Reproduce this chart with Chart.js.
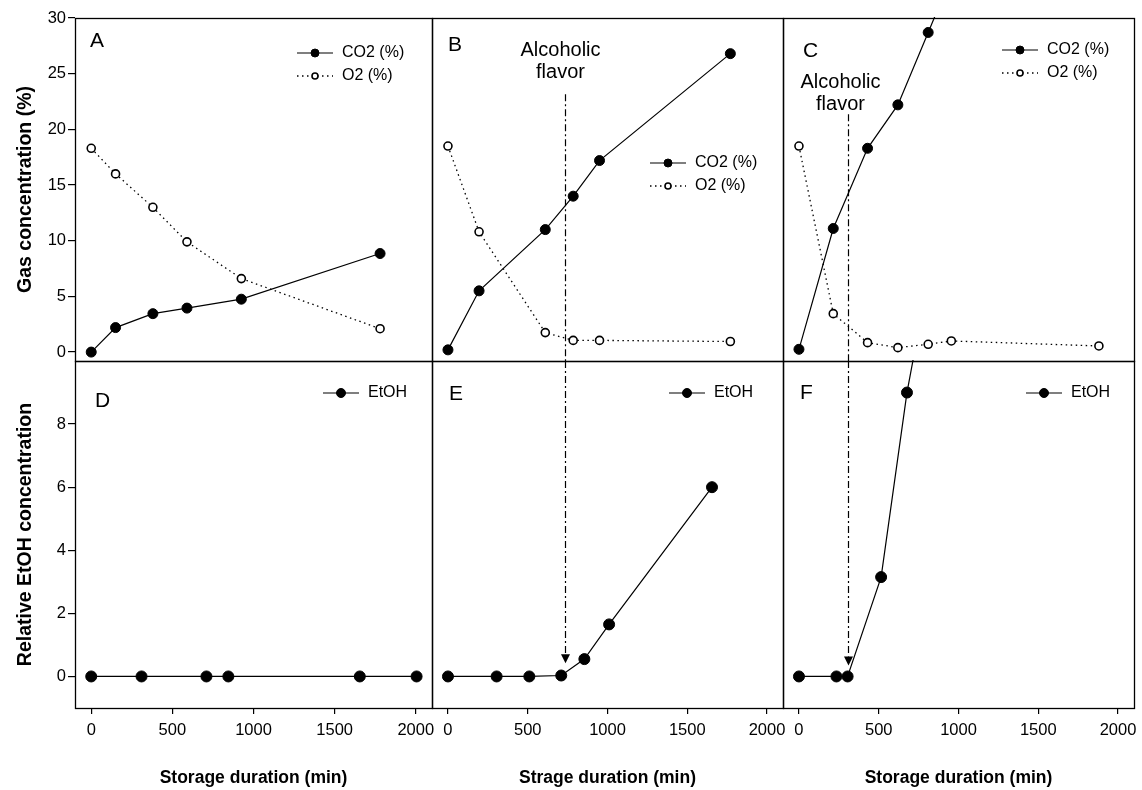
<!DOCTYPE html>
<html>
<head>
<meta charset="utf-8">
<script src="https://cdn.jsdelivr.net/npm/chart.js@4.4.0/dist/chart.umd.min.js"></script>
<style>
  body { margin: 0; background: #fff; }
  #wrap { position: relative; width: 1142px; height: 790px; overflow: hidden; }
  #wrap canvas { position: absolute; }
</style>
</head>
<body>
<div id="wrap"></div>
<script>
// panel A / D : control
const timeA = [0, 150, 380, 590, 925, 1780];
const co2A = [0, 2.2, 3.45, 3.95, 4.75, 8.85];
const o2A = [18.3, 16.0, 13.0, 9.9, 6.6, 2.1];
const timeD = [0, 310, 710, 845, 1655, 2005];
const etohD = [0, 0, 0, 0, 0, 0];

// panel B / E
const timeB = [0, 195, 610, 785, 950, 1770];
const co2B = [0.2, 5.5, 11.0, 14.0, 17.2, 26.8];
const o2B = [18.5, 10.8, 1.75, 1.05, 1.05, 0.95];
const timeE = [0, 305, 510, 710, 855, 1010, 1655];
const etohE = [0, 0, 0, 0.03, 0.55, 1.65, 6.0];

// panel C / F
const timeCo2C = [0, 215, 430, 620, 810, 955];
const co2C = [0.25, 11.1, 18.3, 22.2, 28.7, 33.7];
const timeO2C = [0, 215, 430, 620, 810, 955, 1880];
const o2C = [18.5, 3.45, 0.85, 0.4, 0.7, 1.0, 0.55];
const timeF = [0, 235, 305, 515, 677, 810];
const etohF = [0, 0, 0, 3.15, 9.0, 12.6];

// time where alcoholic flavor was noticed
const flavorB = 735;
const flavorC = 310;

const xTicks = [0, 500, 1000, 1500, 2000];
const gasTicks = [0, 5, 10, 15, 20, 25, 30];
const etohTicks = [0, 2, 4, 6, 8];

const FONT = '"Liberation Sans", Arial, sans-serif';

function pts(t, v) {
  return t.map((x, i) => ({ x: x, y: v[i] }));
}

const co2Style = {
  borderColor: '#000', borderWidth: 1.2, pointRadius: 5,
  pointBackgroundColor: '#000', pointBorderColor: '#000', pointBorderWidth: 1
};
const o2Style = {
  borderColor: '#000', borderWidth: 1.3, borderDash: [1.5, 3.5], pointRadius: 4,
  pointBackgroundColor: '#fff', pointBorderColor: '#000', pointBorderWidth: 1.6
};
const etohStyle = {
  borderColor: '#000', borderWidth: 1.2, pointRadius: 5.5,
  pointBackgroundColor: '#000', pointBorderColor: '#000', pointBorderWidth: 1
};

function ds(label, data, style) {
  return Object.assign({ label: label, data: data, clip: 1 }, style);
}

const panels = [
  { key: 'A', row: 0, col: 0, box: [75, 18, 432, 361], letter: [15, 23],
    datasets: [ds('CO2 (%)', pts(timeA, co2A), co2Style), ds('O2 (%)', pts(timeA, o2A), o2Style)],
    legend: [222, 35] },
  { key: 'B', row: 0, col: 1, box: [432, 18, 783, 361], letter: [16, 27],
    datasets: [ds('CO2 (%)', pts(timeB, co2B), co2Style), ds('O2 (%)', pts(timeB, o2B), o2Style)],
    legend: [218, 145],
    flavor: { x: flavorB, from: 23.15, text: [-5, 32.5] } },
  { key: 'C', row: 0, col: 2, box: [783, 18, 1134, 361], letter: [20, 33],
    datasets: [ds('CO2 (%)', pts(timeCo2C, co2C), co2Style), ds('O2 (%)', pts(timeO2C, o2C), o2Style)],
    legend: [219, 32],
    flavor: { x: flavorC, from: 21.35, text: [-8, 64.5] } },
  { key: 'D', row: 1, col: 0, box: [75, 361, 432, 708], letter: [20, 40],
    datasets: [ds('EtOH', pts(timeD, etohD), etohStyle)],
    legend: [248, 32], xTitle: 'Storage duration (min)' },
  { key: 'E', row: 1, col: 1, box: [432, 361, 783, 708], letter: [17, 33],
    datasets: [ds('EtOH', pts(timeE, etohE), etohStyle)],
    legend: [237, 32], xTitle: 'Strage duration (min)',
    flavor: { x: flavorB, to: 0.42, arrow: true } },
  { key: 'F', row: 1, col: 2, box: [783, 361, 1134, 708], letter: [17, 32],
    datasets: [ds('EtOH', pts(timeF, etohF), etohStyle)],
    legend: [243, 32], xTitle: 'Storage duration (min)',
    flavor: { x: flavorC, to: 0.35, arrow: true } }
];

function decor(p) {
  return {
    id: 'decor' + p.key,
    afterDatasetsDraw(chart) {
      const ctx = chart.ctx;
      const a = chart.chartArea;
      const xs = chart.scales.x, ys = chart.scales.y;
      ctx.save();

      // frame
      ctx.strokeStyle = '#000';
      ctx.lineWidth = 1.3;
      ctx.setLineDash([]);
      ctx.strokeRect(Math.round(a.left) + 0.5, Math.round(a.top) + 0.5,
        Math.round(a.right - a.left), Math.round(a.bottom - a.top));

      // panel letter
      ctx.fillStyle = '#000';
      ctx.font = '21px ' + FONT;
      ctx.textAlign = 'left';
      ctx.textBaseline = 'middle';
      ctx.fillText(p.key, a.left + p.letter[0], a.top + p.letter[1]);

      // legend
      ctx.font = '16px ' + FONT;
      p.datasets.forEach((d, i) => {
        const x0 = a.left + p.legend[0];
        const y = a.top + p.legend[1] + i * 23;
        ctx.strokeStyle = '#000';
        ctx.lineWidth = d.borderWidth;
        ctx.setLineDash(d.borderDash || []);
        ctx.beginPath();
        ctx.moveTo(x0, y);
        ctx.lineTo(x0 + 36, y);
        ctx.stroke();
        ctx.setLineDash([]);
        ctx.beginPath();
        ctx.arc(x0 + 18, y, d.pointRadius - 1, 0, Math.PI * 2);
        ctx.fillStyle = d.pointBackgroundColor;
        ctx.fill();
        ctx.lineWidth = d.pointBorderWidth;
        ctx.stroke();
        ctx.fillStyle = '#000';
        ctx.fillText(d.label, x0 + 45, y);
      });

      // alcoholic flavor marker
      if (p.flavor) {
        const f = p.flavor;
        const x = Math.round(xs.getPixelForValue(f.x)) + 0.5;
        const y0 = f.from !== undefined ? ys.getPixelForValue(f.from) : a.top;
        let y1 = f.to !== undefined ? ys.getPixelForValue(f.to) : a.bottom;
        const tip = y1;
        if (f.arrow) y1 -= 9;
        ctx.strokeStyle = '#000';
        ctx.lineWidth = 1.2;
        ctx.setLineDash([7, 3, 2, 3]);
        ctx.beginPath();
        ctx.moveTo(x, y0);
        ctx.lineTo(x, y1);
        ctx.stroke();
        ctx.setLineDash([]);
        if (f.arrow) {
          ctx.beginPath();
          ctx.moveTo(x - 4.5, tip - 9);
          ctx.lineTo(x + 4.5, tip - 9);
          ctx.lineTo(x, tip);
          ctx.closePath();
          ctx.fillStyle = '#000';
          ctx.fill();
        }
        if (f.text) {
          ctx.font = '20px ' + FONT;
          ctx.textAlign = 'center';
          ctx.fillStyle = '#000';
          ctx.fillText('Alcoholic', x + f.text[0], a.top + f.text[1]);
          ctx.fillText('flavor', x + f.text[0], a.top + f.text[1] + 22);
        }
      }
      ctx.restore();
    }
  };
}

const wrap = document.getElementById('wrap');

function build(p) {
  const hasY = p.col === 0;
  const hasX = p.row === 1;
  const ml = hasY ? 75 : 12;
  const mt = p.row === 0 ? 18 : 12;
  const mr = 12;
  const mb = hasX ? 82 : 12;
  const [l, t, r, b] = p.box;
  const w = r - l + ml + mr, h = b - t + mt + mb;
  const cv = document.createElement('canvas');
  cv.width = w; cv.height = h;
  cv.style.left = (l - ml) + 'px';
  cv.style.top = (t - mt) + 'px';
  cv.style.width = w + 'px';
  cv.style.height = h + 'px';
  wrap.appendChild(cv);

  const tickFont = { family: FONT, size: 16.5 };

  new Chart(cv, {
    type: 'line',
    data: { datasets: p.datasets },
    options: {
      responsive: false,
      animation: false,
      devicePixelRatio: 1,
      layout: { padding: { left: hasY ? 0 : ml, top: mt, right: mr, bottom: hasX ? 0 : mb } },
      plugins: { legend: { display: false }, tooltip: { enabled: false } },
      scales: {
        x: {
          type: 'linear', min: -100, max: 2100,
          display: hasX,
          afterBuildTicks: s => { s.ticks = xTicks.map(v => ({ value: v })); },
          afterFit: s => { s.height = hasX ? 82 : 0; s.paddingLeft = 0; s.paddingRight = 0; },
          ticks: { autoSkip: false, maxRotation: 0, padding: 7, color: '#000', font: tickFont,
                   callback: v => String(v) },
          grid: { drawOnChartArea: false, tickLength: 6, color: '#000', lineWidth: 1.2 },
          border: { display: false },
          title: { display: true, text: p.xTitle || '', color: '#000',
                   font: { family: FONT, size: 17.5, weight: 'bold' }, padding: { top: 0, bottom: 1.5 } }
        },
        y: {
          type: 'linear',
          min: p.row === 0 ? -0.8 : -1,
          max: p.row === 0 ? 30 : 10,
          display: hasY,
          afterBuildTicks: s => { s.ticks = (p.row === 0 ? gasTicks : etohTicks).map(v => ({ value: v })); },
          afterFit: s => { s.width = hasY ? 75 : 0; s.paddingTop = 0; s.paddingBottom = 0; },
          ticks: { padding: 2, color: '#000', font: tickFont, callback: v => String(v) },
          grid: { drawOnChartArea: false, tickLength: 7, color: '#000', lineWidth: 1.2 },
          border: { display: false },
          title: {
            display: true,
            text: p.row === 0 ? 'Gas concentration (%)' : 'Relative EtOH concentration',
            color: '#000', font: { family: FONT, size: 19.5, weight: 'bold' }, padding: { top: 14, bottom: 0 }
          }
        }
      }
    },
    plugins: [decor(p)]
  });
}

panels.forEach(build);
</script>
</body>
</html>
